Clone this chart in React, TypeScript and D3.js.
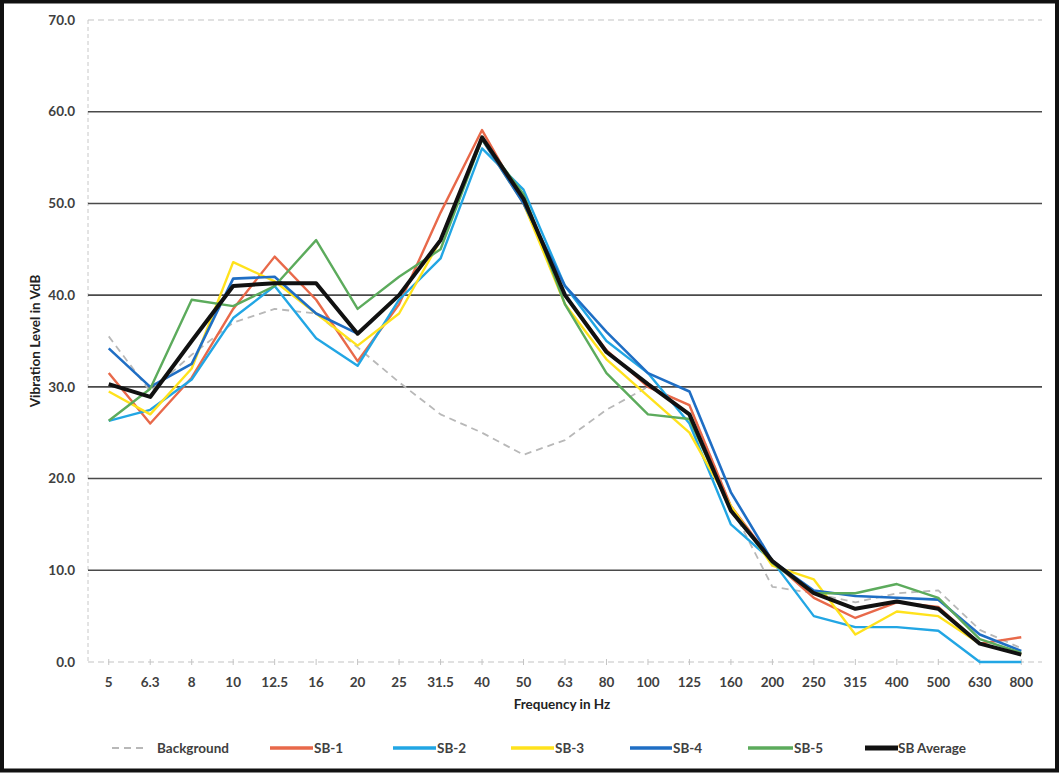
import React from "react";
import * as d3 from "d3";

const categories = ["5","6.3","8","10","12.5","16","20","25","31.5","40","50","63","80","100","125","160","200","250","315","400","500","630","800"];
const yTicks = [0,10,20,30,40,50,60,70];

const background = [35.5,29.5,33.5,37,38.5,38,34.3,30.5,27,25,22.6,24.2,27.5,30,28,17,8.2,7.5,6.5,7.5,7.8,3.5,1.5];
const sb1 = [31.5,26,31,38.5,44.2,39.5,32.8,39,49,58,50,40,34,30,28,17,11,7,4.8,6.5,6,2,2.7];
const sb2 = [26.3,27.5,30.8,37.5,41,35.3,32.3,39.5,44,56,51.5,41,35,31.5,26,15,11,5,3.8,3.8,3.4,0,0];
const sb3 = [29.5,27,32,43.6,41.5,38,34.5,38,46,57,50,39,33,29,25,17,10.5,9,3,5.5,5,2,0.8];
const sb4 = [34.2,30,32.5,41.8,42,38,35.8,40,46,57,50,41,36,31.5,29.5,18.5,11,7.8,7.2,7,6.8,3,1.2];
const sb5 = [26.3,29.8,39.5,38.8,41,46,38.5,42,45,57,51,39,31.5,27,26.5,16.5,10.8,7.5,7.5,8.5,7,2.5,1];
const sbAvg = [30.3,28.9,35,41,41.3,41.3,35.8,40,46,57.2,50.5,40,33.8,30.3,27,16.5,11,7.5,5.8,6.6,5.8,2,0.8];

const seriesNames = ["Background","SB-1","SB-2","SB-3","SB-4","SB-5","SB Average"];
const seriesData = [background, sb1, sb2, sb3, sb4, sb5, sbAvg];
const seriesColors = ["#b8b8b8","#e8694a","#22a6e4","#ffe21c","#1f6ec4","#5cab5c","#111111"];
const seriesWidths = [1.8,2.4,2.4,2.4,2.6,2.4,4];

export default function App() {
  const W = 1062, H = 776;
  const left = 88, right = 1042, top = 20, bottom = 662;
  const x = d3.scalePoint<string>().domain(categories).range([left, right]).padding(0.5);
  const y = d3.scaleLinear().domain([0, 70]).range([bottom, top]);
  const line = d3.line<number>().x((_, i) => x(categories[i]) as number).y(d => y(d));
  const font = "Lato, 'Open Sans', sans-serif";
  const legendPos = [
    { lx: 112, lw: 36, tx: 157 },
    { lx: 270, lw: 43, tx: 314 },
    { lx: 393, lw: 43, tx: 437 },
    { lx: 511, lw: 43, tx: 555 },
    { lx: 630, lw: 42, tx: 673 },
    { lx: 748, lw: 45, tx: 794 },
    { lx: 865, lw: 33, tx: 898 },
  ];
  return (
    <div style={{ position: "absolute", left: 0, top: 0 }}>
      <svg width={W} height={H} style={{ display: "block", background: "#fff" }} fontFamily={font}>
        <line x1={left} x2={left} y1={top} y2={bottom} stroke="#c8c8c8" strokeDasharray="4,3" />
        {yTicks.map(t => (
          <g key={t}>
            {t === 0 || t === 70 ? (
              <line x1={left} x2={right} y1={y(t)} y2={y(t)} stroke="#c4c4c4" strokeDasharray="6,4" strokeWidth={1.2} />
            ) : (
              <line x1={left} x2={right} y1={y(t)} y2={y(t)} stroke="#4a4a4a" strokeWidth={1.6} />
            )}
            <text x={75} y={y(t)} dy="0.35em" textAnchor="end" fontSize={13.5} fontWeight={700} fill="#404040">{t.toFixed(1)}</text>
          </g>
        ))}
        {categories.map(c => (
          <g key={c}>
            <line x1={x(c)} x2={x(c)} y1={bottom - 3} y2={bottom + 3} stroke="#c4c4c4" />
            <text x={x(c)} y={682} dy="0.35em" textAnchor="middle" fontSize={13.5} fontWeight={700} fill="#404040">{c}</text>
          </g>
        ))}
        <text x={562} y={704} dy="0.35em" textAnchor="middle" fontSize={13.5} fontWeight={700} fill="#222">Frequency in Hz</text>
        <text transform={`translate(35,${(top + bottom) / 2}) rotate(-90)`} textAnchor="middle" dy="0.35em" fontSize={13.5} fontWeight={700} fill="#222">Vibration Level in VdB</text>
        {seriesData.map((d, i) => (
          <path key={seriesNames[i]} d={line(d) || ""} fill="none" stroke={seriesColors[i]} strokeWidth={seriesWidths[i]}
            strokeDasharray={i === 0 ? "7,5" : undefined} strokeLinejoin="round" />
        ))}
        {seriesNames.map((n, i) => (
          <g key={n}>
            <line x1={legendPos[i].lx} x2={legendPos[i].lx + legendPos[i].lw} y1={748} y2={748} stroke={seriesColors[i]}
              strokeWidth={i === 0 ? 1.8 : seriesWidths[i] + 1} strokeDasharray={i === 0 ? "7,5" : undefined} />
            <text x={legendPos[i].tx} y={748} dy="0.35em" fontSize={13.5} fontWeight={700} fill="#404040">{n}</text>
          </g>
        ))}
        <rect x={2} y={1.5} width={1055} height={769} fill="none" stroke="#111" strokeWidth={4} />
      </svg>
    </div>
  );
}
